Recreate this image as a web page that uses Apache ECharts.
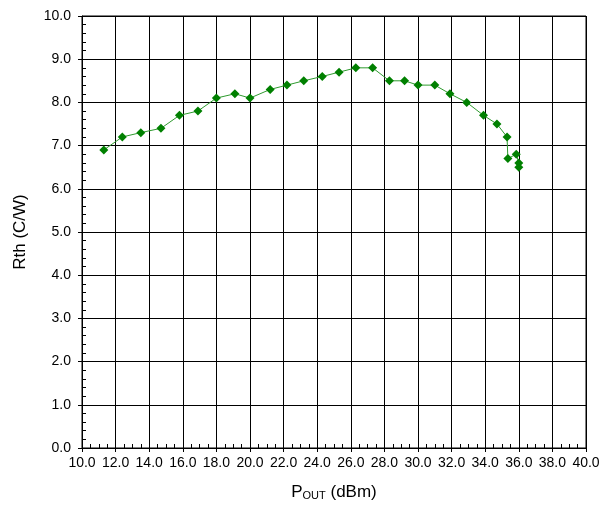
<!DOCTYPE html>
<html>
<head>
<meta charset="utf-8">
<script src="https://cdn.jsdelivr.net/npm/echarts@6/dist/echarts.min.js"></script>
<style>html,body{margin:0;padding:0;background:#fff;}#c{width:613px;height:506px;}</style>
</head>
<body>
<div id="c"></div>
<script>
const pout = [11.3, 12.4, 13.5, 14.7, 15.8, 16.9, 18.0, 19.1, 20.0, 21.2, 22.2, 23.2, 24.3, 25.3, 26.3, 27.3, 28.3, 29.2, 30.0, 31.0, 31.9, 32.9, 33.9, 34.7, 35.3, 35.35, 35.85, 36.0, 36.0];
const rth  = [6.9, 7.2, 7.3, 7.4, 7.7, 7.8, 8.1, 8.2, 8.1, 8.3, 8.4, 8.5, 8.6, 8.7, 8.8, 8.8, 8.5, 8.5, 8.4, 8.4, 8.2, 8.0, 7.7, 7.5, 7.2, 6.7, 6.8, 6.6, 6.5];
const xTitle = 'P{sub|OUT} (dBm)';
const yTitle = 'Rth (C/W)';

const font = 'Arial, "Liberation Sans", sans-serif';
const chart = echarts.init(document.getElementById('c'));
const fmt = v => Number(v).toFixed(1);
chart.setOption({
  animation: false,
  grid: { left: 82, right: 27, top: 16, bottom: 58, show: true, borderColor: '#000', borderWidth: 1 },
  xAxis: [{
    type: 'value', min: 10, max: 40, interval: 2,
    name: xTitle, nameLocation: 'middle', nameGap: 35,
    nameTextStyle: { fontFamily: font, fontSize: 17, color: '#000',
      rich: { sub: { fontFamily: font, fontSize: 11, color: '#000', verticalAlign: 'bottom', padding: [7, 0, 0, 0] } } },
    axisLine: { lineStyle: { color: '#000', width: 1 } },
    axisTick: { show: true, inside: false, length: 4, lineStyle: { color: '#000' } },
    axisLabel: { formatter: fmt, fontFamily: font, fontSize: 14, color: '#000', margin: 8 },
    splitLine: { show: true, lineStyle: { color: '#000', width: 1 } }
  }, {
    type: 'value', min: 10, max: 40, interval: 2, position: 'bottom',
    axisLine: { show: false }, axisLabel: { show: false }, splitLine: { show: false },
    axisTick: { show: false, inside: true },
    minorTick: { show: true, splitNumber: 4, length: 4, lineStyle: { color: '#000' } }
  }],
  yAxis: [{
    type: 'value', min: 0, max: 10, interval: 1,
    name: yTitle, nameLocation: 'middle', nameGap: 53, nameRotate: 90,
    nameTextStyle: { fontFamily: font, fontSize: 17, color: '#000' },
    axisLine: { show: true, lineStyle: { color: '#000', width: 1 } },
    axisTick: { show: true, inside: false, length: 4, lineStyle: { color: '#000' } },
    axisLabel: { formatter: fmt, fontFamily: font, fontSize: 14, color: '#000', margin: 11 },
    splitLine: { show: true, lineStyle: { color: '#000', width: 1 } }
  }, {
    type: 'value', min: 0, max: 10, interval: 1, position: 'left',
    axisLine: { show: false }, axisLabel: { show: false }, splitLine: { show: false },
    axisTick: { show: false, inside: true },
    minorTick: { show: true, splitNumber: 5, length: 4, lineStyle: { color: '#000' } }
  }],
  series: [{
    type: 'line',
    data: pout.map((x, i) => [x, rth[i]]),
    symbol: 'diamond', symbolSize: 9,
    lineStyle: { color: '#2e9a2e', width: 1 },
    itemStyle: { color: '#008000' }
  }]
});
</script>
</body>
</html>
